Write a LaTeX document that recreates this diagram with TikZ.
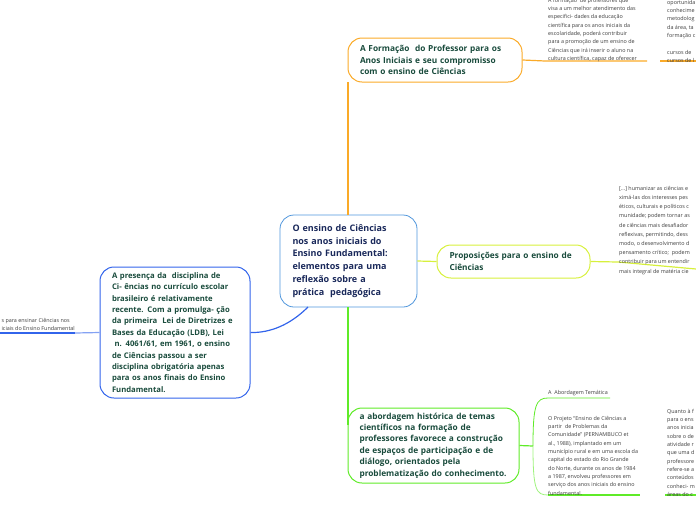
\documentclass[tikz,border=0pt]{standalone}
\usepackage{fontspec}
\setmainfont{Open Sans}
\definecolor{orangeline}{RGB}{250,170,40}
\definecolor{limeline}{RGB}{215,240,60}
\definecolor{greenline}{RGB}{95,235,40}
\definecolor{blueline}{RGB}{50,100,235}
\definecolor{centerline}{RGB}{80,150,220}
\definecolor{branchtext}{RGB}{25,75,60}
\definecolor{centertext}{RGB}{25,40,90}
\definecolor{smalltext}{RGB}{60,60,60}
\tikzset{
  topic/.style={draw, line width=1pt, rounded corners=14pt, inner sep=0pt, font=\bfseries\fontsize{8.3}{11.4}\selectfont, text=branchtext, align=left},
  note/.style={anchor=north west, inner sep=0pt, font=\fontsize{5.4}{8.3}\selectfont, text=smalltext, align=left},
  branch/.style={line width=1.2pt}
}
\begin{document}
\begin{tikzpicture}[x=1pt,y=-1pt]
\useasboundingbox (0,0) rectangle (696,520);
\clip (0,0) rectangle (696,520);

% central topic
\node[topic, draw=centerline, line width=0.8pt, text=centertext, font=\bfseries\fontsize{9}{12.8}\selectfont, minimum width=137pt, minimum height=92pt, text width=112pt] (centre) at (348.5,261) {O ensino de Ciências\\nos anos iniciais do\\Ensino Fundamental:\\elementos para uma\\reflexão sobre a\\prática\ \ pedagógica};

% main topics
\node[topic, draw=orangeline, minimum width=174pt, minimum height=44pt, text width=150pt] (formacao) at (435,60) {A Formação\ \ do Professor para os\\Anos Iniciais e seu compromisso\\com o ensino de Ciências};
\node[topic, draw=limeline, minimum width=153pt, minimum height=33pt, text width=128pt] (proposicoes) at (513.5,261.5) {Proposições para o ensino de\\Ciências};
\node[topic, draw=blueline, minimum width=150pt, minimum height=131pt, text width=126pt, font=\bfseries\fontsize{7.7}{11.4}\selectfont] (presenca) at (175,332.5) {A\ presença da\ \ disciplina de\\Ci- ências no currículo escolar\\brasileiro é relativamente\\recente. Com a promulga- ção\\da primeira\ \ Lei de Diretrizes e\\Bases da Educação (LDB), Lei\\\ n. 4061/61, em 1961, o ensino\\de Ciências passou a ser\\disciplina obrigatória apenas\\para os anos finais do Ensino\\Fundamental.};
\node[topic, draw=greenline, minimum width=171pt, minimum height=75pt, text width=148pt] (abordagem) at (433.5,445.5) {a abordagem histórica de temas\\científicos na formação de\\professores favorece a construção\\de espaços de participação e de\\diálogo, orientados pela\\problematização do conhecimento.};

% connectors from centre
\draw[branch, orangeline] (348,215) -- (348,82);
\draw[branch, limeline] (centre.east) -- (proposicoes.west);
\draw[branch, greenline] (348,307) -- (348,425);
\draw[branch, blueline] (308,307) .. controls (290,325) and (270,333) .. (presenca.east);

% notes of the orange topic
\coordinate (fnote) at (545,61);
\draw[branch, orangeline] (formacao.east) -- (fnote) -- (647,61);
\draw[branch, orangeline] (660,61) -- (696,61);
\node[note] (fnotetext) at (548,-2) {A formação\ \ de professores que\\visa a um melhor atendimento das\\especifici- dades da educação\\científica para os anos iniciais da\\escolaridade, poderá contribuir\\para a promoção de um ensino de\\Ciências que irá inserir o aluno na\\cultura científica, capaz de oferecer};
\node[note] (fnotemore) at (667,0) {oportunida\\conhecime\\metodolog\\da área, ta\\formação c\\[8.3pt]cursos de\\cursos de l};

% notes of the lime topic
\draw[branch, limeline] (proposicoes.east) -- (618,262) -- (696,269);
\node[note, font=\fontsize{5.4}{9.2}\selectfont] (pnote) at (619,186) {[...]\ humanizar as ciências e\\ximá-las dos interesses pes\\éticos, culturais e políticos c\\munidade; podem tornar as\\de ciências mais desafiador\\reflexivas, permitindo, dess\\modo, o desenvolvimento d\\pensamento crítico;\ \ podem\\contribuir para um entendir\\mais integral de matéria cie};

% notes of the blue topic
\coordinate (bnote) at (75,333);
\draw[branch, blueline!60] (presenca.west) -- (bnote);
\draw[branch, blueline] (bnote) -- (0,333);
\node[note, anchor=south east] (bnotetext) at (75,331) {s para ensinar Ciências nos\\iciais do Ensino Fundamental};

% notes of the green topic
\coordinate (gsplit) at (533,446);
\draw[branch, greenline] (abordagem.east) -- (gsplit);
\draw[greenline, line width=0.8pt] (gsplit) .. controls (533,405) and (536,398) .. (548,398) -- (610,398);
\draw[greenline!60, line width=0.8pt] (gsplit) .. controls (533,490) and (536,495) .. (548,495);
\draw[branch, greenline] (548,495) -- (640,495);
\draw[branch, greenline] (665,495) -- (696,495);
\node[note, anchor=south west] (gtema) at (548,396) {A\ \ Abordagem Temática};
\node[note] (gnote) at (548,416) {O Projeto “Ensino de Ciências a\\partir\ \ de Problemas da\\Comunidade” (PERNAMBUCO et\\al., 1988), implantado em um\\município rural e em uma escola da\\capital do estado do Rio Grande\\do Norte, durante os anos de 1984\\a 1987, envolveu professores em\\serviço dos anos iniciais do ensino\\fundamental.};
\node[note] (gnotemore) at (667,409) {Quanto à f\\para o ens\\anos inicia\\sobre o de\\atividade r\\que uma d\\professore\\refere-se a\\conteúdos\\conheci- m\\áreas do c};
\end{tikzpicture}
\end{document}
